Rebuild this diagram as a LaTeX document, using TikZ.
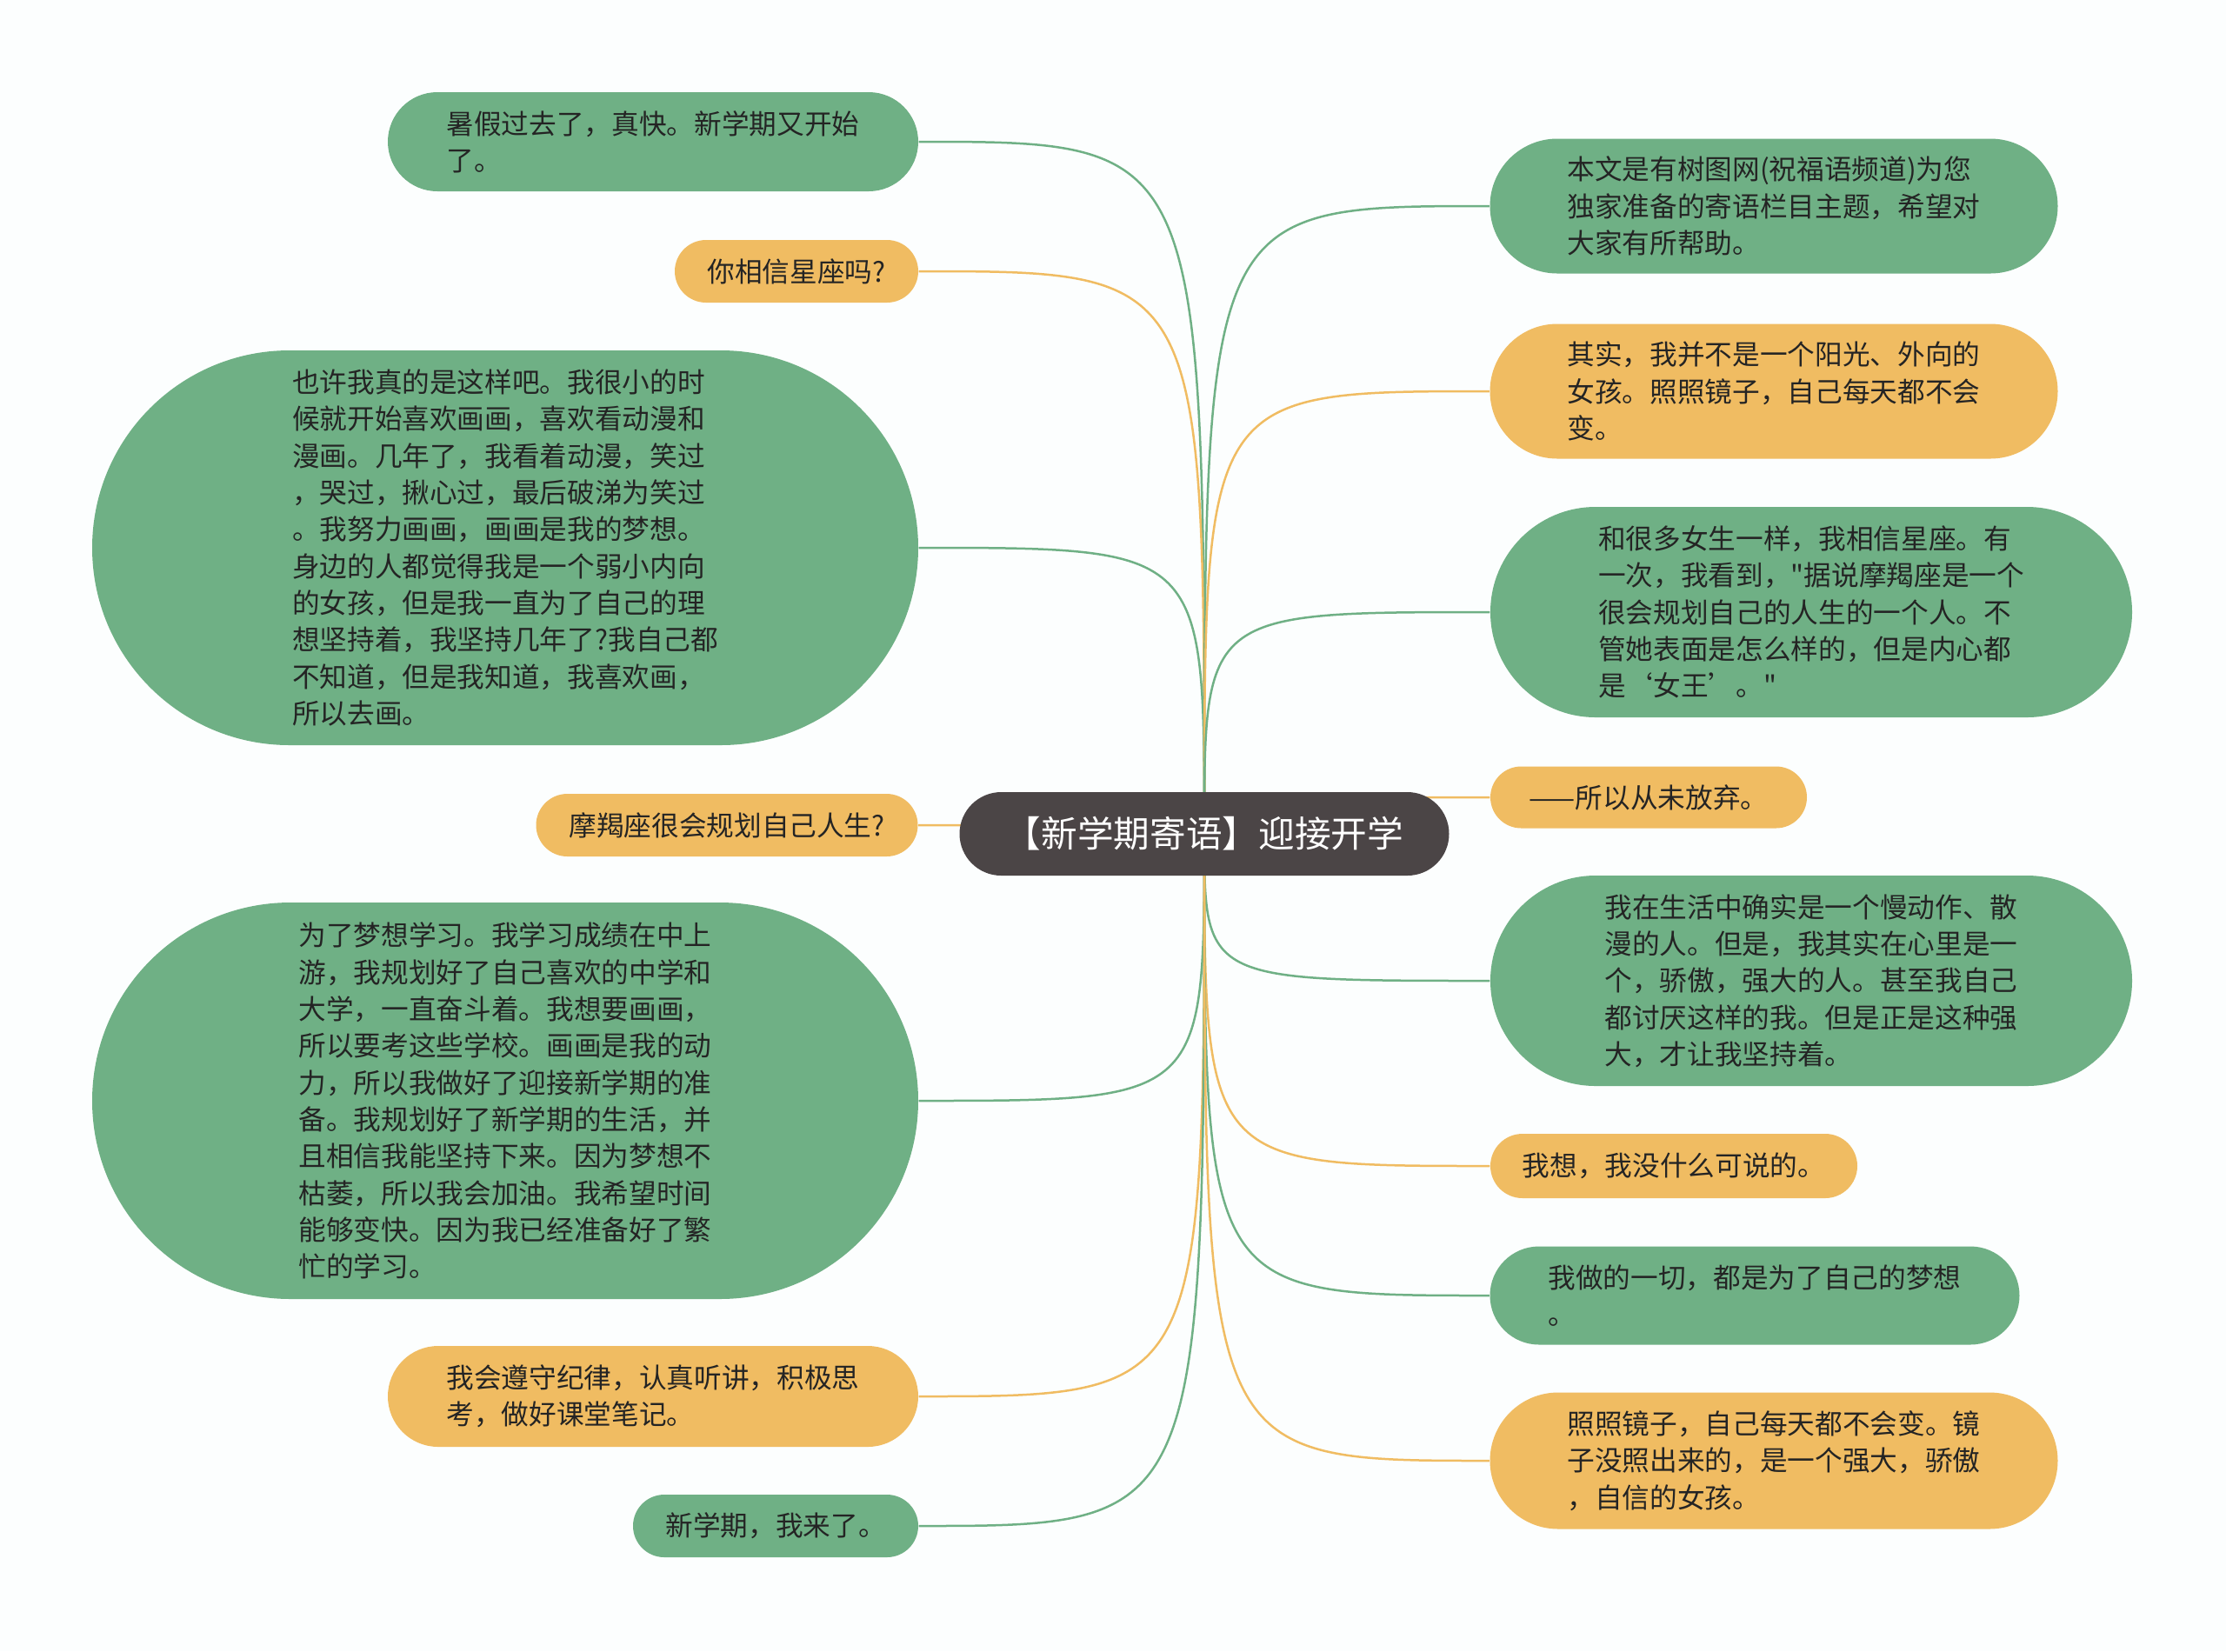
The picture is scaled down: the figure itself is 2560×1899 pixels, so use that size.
\documentclass[tikz,border=0pt]{standalone}
\usepackage{fontspec}
\setmainfont{Noto Sans CJK SC}[Ligatures=TeXOff]
\usepackage{tikz}
\usetikzlibrary{backgrounds}
\definecolor{leafgreen}{RGB}{111,176,133}
\definecolor{leaforange}{RGB}{240,188,98}
\definecolor{rootgray}{RGB}{75,69,70}
\definecolor{inkgray}{RGB}{36,36,36}
\definecolor{paper}{RGB}{252,254,254}

\begin{document}
\begin{tikzpicture}[x=0.3pt,y=-0.3pt,
    leaf/.style={text=inkgray,align=left,inner sep=0pt,font=\fontsize{9.5pt}{12.7pt}\selectfont},
    bub/.style 2 args={minimum width=#1*0.3pt,minimum height=#2*0.3pt,rounded corners=#2*0.15pt},
    greenleaf/.style={leaf,fill=leafgreen},
    orangeleaf/.style={leaf,fill=leaforange},
    branch/.style={line width=0.75pt}]
      \useasboundingbox (0,0) rectangle (2560,1899);
      % root
      \node[fill=rootgray,text=white,inner sep=0pt,bub={563}{96},font=\fontsize{12.5pt}{15pt}\selectfont] (root) at (1385,959) {【新学期寄语】迎接开学};
      % left side
      \node[greenleaf,bub={610}{114}] (l1) at (751,163) {暑假过去了，真快。新学期又开始\\了。};
      \node[orangeleaf,bub={280}{72}] (l2) at (916,312) {你相信星座吗?};
      \node[greenleaf,bub={950}{454}] (l3) at (581,630) {也许我真的是这样吧。我很小的时\\候就开始喜欢画画，喜欢看动漫和\\漫画。几年了，我看着动漫，笑过\\，哭过，揪心过，最后破涕为笑过\\。我努力画画，画画是我的梦想。\\身边的人都觉得我是一个弱小内向\\的女孩，但是我一直为了自己的理\\想坚持着，我坚持几年了?我自己都\\不知道，但是我知道，我喜欢画，\\所以去画。};
      \node[orangeleaf,bub={439}{72}] (l4) at (836,949) {摩羯座很会规划自己人生?};
      \node[greenleaf,bub={950}{456}] (l5) at (581,1266) {为了梦想学习。我学习成绩在中上\\游，我规划好了自己喜欢的中学和\\大学，一直奋斗着。我想要画画，\\所以要考这些学校。画画是我的动\\力，所以我做好了迎接新学期的准\\备。我规划好了新学期的生活，并\\且相信我能坚持下来。因为梦想不\\枯萎，所以我会加油。我希望时间\\能够变快。因为我已经准备好了繁\\忙的学习。};
      \node[orangeleaf,bub={610}{116}] (l6) at (751,1606) {我会遵守纪律，认真听讲，积极思\\考，做好课堂笔记。};
      \node[greenleaf,bub={328}{72}] (l7) at (892,1755) {新学期，我来了。};
      % right side
      \node[greenleaf,bub={653}{155}] (r1) at (2040,237) {本文是有树图网(祝福语频道)为您\\独家准备的寄语栏目主题，希望对\\大家有所帮助。};
      \node[orangeleaf,bub={653}{155}] (r2) at (2040,450) {其实，我并不是一个阳光、外向的\\女孩。照照镜子，自己每天都不会\\变。};
      \node[greenleaf,bub={738}{242}] (r3) at (2083,704) {和很多女生一样，我相信星座。有\\一次，我看到，"据说摩羯座是一个\\很会规划自己的人生的一个人。不\\管她表面是怎么样的，但是内心都\\是‘女王’。"};
      \node[orangeleaf,bub={364}{71}] (r4) at (1896,917) {——所以从未放弃。};
      \node[greenleaf,bub={738}{242}] (r5) at (2083,1128) {我在生活中确实是一个慢动作、散\\漫的人。但是，我其实在心里是一\\个，骄傲，强大的人。甚至我自己\\都讨厌这样的我。但是正是这种强\\大，才让我坚持着。};
      \node[orangeleaf,bub={422}{74}] (r6) at (1925,1341) {我想，我没什么可说的。};
      \node[greenleaf,bub={609}{113}] (r7) at (2018,1490) {我做的一切，都是为了自己的梦想\\。};
      \node[orangeleaf,bub={653}{157}] (r8) at (2040,1680) {照照镜子，自己每天都不会变。镜\\子没照出来的，是一个强大，骄傲\\，自信的女孩。};
      % branches, under the bubbles
      \begin{scope}[on background layer]
        \fill[paper] (0,0) rectangle (2560,1899);
        \foreach \n/\c in {l1/leafgreen,l2/leaforange,l3/leafgreen,l4/leaforange,l5/leafgreen,l6/leaforange,l7/leafgreen}
          \draw[branch,\c] (root.center) .. controls (root.center |- \n.east) .. (\n.east);
        \foreach \n/\c in {r1/leafgreen,r2/leaforange,r3/leafgreen,r4/leaforange,r5/leafgreen,r6/leaforange,r7/leafgreen,r8/leaforange}
          \draw[branch,\c] (root.center) .. controls (root.center |- \n.west) .. (\n.west);
      \end{scope}
\end{tikzpicture}
\end{document}
